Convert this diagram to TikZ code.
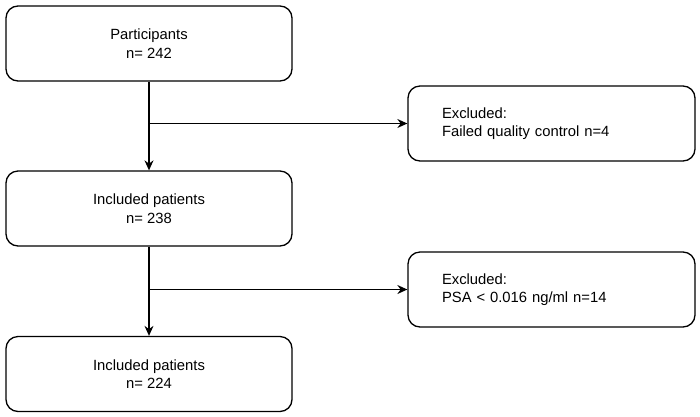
\documentclass[tikz,border=0pt]{standalone}
\usepackage{fontspec}
\setmainfont{Liberation Sans}
\usetikzlibrary{arrows.meta}

\begin{document}
\begin{tikzpicture}[x=1pt, y=-1pt, line width=1.3pt, line join=round,
    box/.style={draw, rounded corners=12pt, minimum width=286pt, minimum height=75pt,
      align=center, font=\fontsize{14.8}{18.5}\selectfont},
    exbox/.style={box, minimum width=287pt, text width=219pt, inner xsep=34pt, align=left},
    flow/.style={-{Stealth[length=10pt, width=9pt]}}]
  \useasboundingbox (0,0) rectangle (700,416);
  \node[box] (part) at (149,43.5) {Participants\\n= 242};
  \node[box] (inc1) at (149,208.5) {Included patients\\n= 238};
  \node[box] (inc2) at (149,374) {Included patients\\n= 224};
  \node[exbox] (exc1) at (551.5,123.5) {Excluded:\\Failed quality control n=4};
  \node[exbox] (exc2) at (551.5,289.5) {Excluded:\\PSA < 0.016 ng/ml n=14};
  % main path down, with a side branch to each exclusion
  \draw[flow] (part) -- (inc1);
  \draw[flow] (inc1) -- (inc2);
  \draw[flow] (part.south |- exc1.west) -- (exc1.west);
  \draw[flow] (inc1.south |- exc2.west) -- (exc2.west);
\end{tikzpicture}
\end{document}
